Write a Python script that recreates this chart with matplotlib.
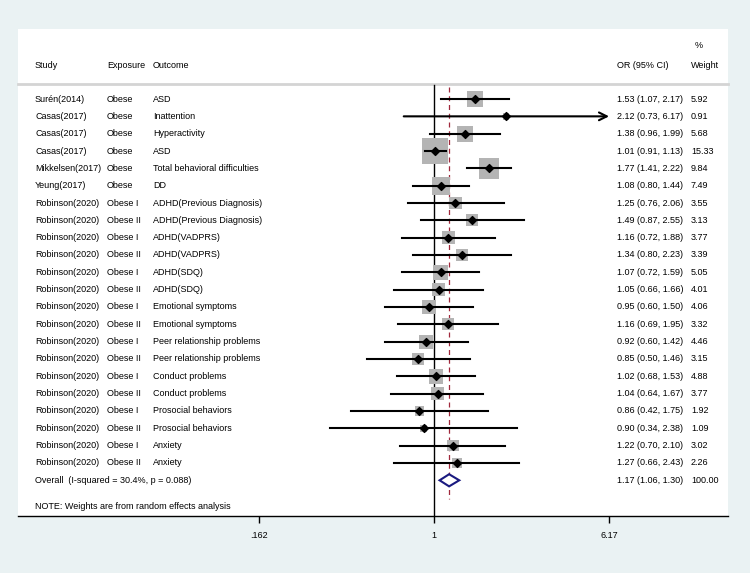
import numpy as np
import matplotlib.pyplot as plt
from matplotlib.transforms import blended_transform_factory

plt.rcParams['font.family'] = ['Liberation Sans', 'DejaVu Sans']

# --- data ---
studies = ["Surén(2014)", "Casas(2017)", "Casas(2017)", "Casas(2017)", "Mikkelsen(2017)",
           "Yeung(2017)"] + ["Robinson(2020)"] * 16
exposures = ["Obese"] * 6 + ["Obese I", "Obese II"] * 8
outcomes = ["ASD", "Inattention", "Hyperactivity", "ASD", "Total behavioral difficulties", "DD",
            "ADHD(Previous Diagnosis)", "ADHD(Previous Diagnosis)", "ADHD(VADPRS)", "ADHD(VADPRS)",
            "ADHD(SDQ)", "ADHD(SDQ)", "Emotional symptoms", "Emotional symptoms",
            "Peer relationship problems", "Peer relationship problems", "Conduct problems",
            "Conduct problems", "Prosocial behaviors", "Prosocial behaviors", "Anxiety", "Anxiety"]
odds = [1.53, 2.12, 1.38, 1.01, 1.77, 1.08, 1.25, 1.49, 1.16, 1.34, 1.07,
        1.05, 0.95, 1.16, 0.92, 0.85, 1.02, 1.04, 0.86, 0.90, 1.22, 1.27]
lower = [1.07, 0.73, 0.96, 0.91, 1.41, 0.80, 0.76, 0.87, 0.72, 0.80, 0.72,
         0.66, 0.60, 0.69, 0.60, 0.50, 0.68, 0.64, 0.42, 0.34, 0.70, 0.66]
upper = [2.17, 6.17, 1.99, 1.13, 2.22, 1.44, 2.06, 2.55, 1.88, 2.23, 1.59,
         1.66, 1.50, 1.95, 1.42, 1.46, 1.53, 1.67, 1.75, 2.38, 2.10, 2.43]
weights = [5.92, 0.91, 5.68, 15.33, 9.84, 7.49, 3.55, 3.13, 3.77, 3.39, 5.05,
           4.01, 4.06, 3.32, 4.46, 3.15, 4.88, 3.77, 1.92, 1.09, 3.02, 2.26]
overall = (1.17, 1.06, 1.30)
overall_label = "Overall  (I-squared = 30.4%, p = 0.088)"
note = "NOTE: Weights are from random effects analysis"
xticks = [0.162, 1, 6.17]
xtick_labels = [".162", "1", "6.17"]

# --- layout ---
W, H = 750, 573
fig = plt.figure(figsize=(W / 100, H / 100), dpi=100, facecolor='#EAF2F3')
ax = fig.add_axes([18 / W, 1 - 516 / H, 710 / W, 487 / H])
ax.set_facecolor('white')

px_per_ln = 96.2
x1_px = 434
ax.set_xscale('log')
ax.set_xlim(np.exp((18 - x1_px) / px_per_ln), np.exp((728 - x1_px) / px_per_ln))
ax.set_ylim(24.06, -4.04)

rows = np.arange(len(studies))
overall_row = len(studies)
trans = blended_transform_factory(ax.transAxes, ax.transData)


def col(px):
    return (px - 18) / 710


fs = 6.5
# header
ax.text(col(35), -1.96, "Study", transform=trans, fontsize=fs, va='center')
ax.text(col(107), -1.96, "Exposure", transform=trans, fontsize=fs, va='center')
ax.text(col(153), -1.96, "Outcome", transform=trans, fontsize=fs, va='center')
ax.text(col(617), -1.96, "OR (95% CI)", transform=trans, fontsize=fs, va='center')
ax.text(col(691), -1.96, "Weight", transform=trans, fontsize=fs, va='center')
ax.text(col(695), -3.06, "%", transform=trans, fontsize=fs, va='center')
ax.plot([0, 1], [-0.87, -0.87], transform=trans, color='#d4d4d4', lw=2, clip_on=False)

# reference lines
ax.plot([1, 1], [-0.8, 24.06], color='black', lw=1)
ax.plot([overall[0]] * 2, [-0.7, 23.1], color='#a0283c', lw=0.9, ls=(0, (4, 3)))

# studies
for i in rows:
    ax.text(col(35), i, studies[i], transform=trans, fontsize=fs, va='center')
    ax.text(col(107), i, exposures[i], transform=trans, fontsize=fs, va='center')
    ax.text(col(153), i, outcomes[i], transform=trans, fontsize=fs, va='center')
    ax.text(col(617), i, f"{odds[i]:.2f} ({lower[i]:.2f}, {upper[i]:.2f})",
            transform=trans, fontsize=fs, va='center')
    ax.text(col(691), i, f"{weights[i]:.2f}", transform=trans, fontsize=fs, va='center')

side_px = 26 * np.sqrt(np.array(weights) / 15.33)
ax.scatter(odds, rows, marker='s', s=(side_px * 0.72) ** 2, color='#b4b4b4', lw=0, zorder=2)

for i in rows:
    if upper[i] >= xticks[-1]:
        ax.annotate("", xy=(upper[i], i), xytext=(lower[i], i),
                    arrowprops=dict(arrowstyle='->', color='black', lw=1.5,
                                    mutation_scale=14, shrinkA=0, shrinkB=0), zorder=3)
    else:
        ax.plot([lower[i], upper[i]], [i, i], color='black', lw=1.5, zorder=3)
ax.scatter(odds, rows, marker='D', s=16, color='black', zorder=4)

# overall
est, lo, hi = overall
ax.fill([lo, est, hi, est, lo], [overall_row, overall_row - 0.35, overall_row,
                                  overall_row + 0.35, overall_row],
        facecolor='white', edgecolor='#1a1a80', lw=1.5, zorder=4)
ax.text(col(35), overall_row, overall_label, transform=trans, fontsize=fs, va='center')
ax.text(col(617), overall_row, f"{est:.2f} ({lo:.2f}, {hi:.2f})",
        transform=trans, fontsize=fs, va='center')
ax.text(col(691), overall_row, "100.00", transform=trans, fontsize=fs, va='center')
ax.text(col(35), 23.54, note, transform=trans, fontsize=fs, va='center')

# axis
for s in ['top', 'left', 'right']:
    ax.spines[s].set_visible(False)
ax.spines['bottom'].set_linewidth(1)
ax.set_yticks([])
ax.set_xticks(xticks)
ax.set_xticklabels(xtick_labels, fontsize=fs)
ax.minorticks_off()
ax.tick_params(axis='x', length=5, width=1, pad=6)

fig.savefig('out.png', dpi=100, facecolor=fig.get_facecolor())
